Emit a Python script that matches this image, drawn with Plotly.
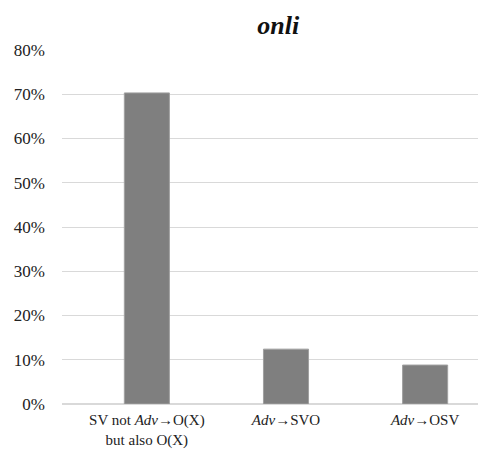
import plotly.graph_objects as go

categories = ["SV not <i>Adv</i>\u2192O(X)<br>but also O(X)", "<i>Adv</i>\u2192SVO", "<i>Adv</i>\u2192OSV"]
values = [0.703, 0.124, 0.088]
y_ticks = [0, 0.1, 0.2, 0.3, 0.4, 0.5, 0.6, 0.7, 0.8]

fig = go.Figure(go.Bar(
    x=[0, 1, 2], y=values, width=0.324,
    marker=dict(color="#7f7f7f", line=dict(color="#a0a0a0", width=1)),
))
fig.update_layout(
    width=478, height=450,
    margin=dict(l=62, r=0, t=50, b=46),
    paper_bgcolor="white", plot_bgcolor="white",
    showlegend=False,
    title=dict(text="<b><i>onli</i></b>", x=0.582, xanchor="center", y=0.944, yanchor="middle",
               font=dict(family="Liberation Serif", size=26, color="#111")),
    font=dict(family="Liberation Serif", color="#222"),
)
fig.update_xaxes(
    range=[-0.61, 2.38], tickvals=[0, 1, 2], ticktext=categories,
    showgrid=False, zeroline=False, showline=False, automargin=False,
    tickfont=dict(size=15, color="#222"), ticklabelstandoff=5,
)
fig.update_yaxes(
    range=[0, 0.8], tickvals=y_ticks, tickformat=".0%", automargin=False,
    showgrid=True, gridcolor="#d9d9d9", gridwidth=1, zeroline=True, zerolinecolor="#d9d9d9",
    showline=False, tickfont=dict(size=17, color="#222"), ticklabelstandoff=16,
)
fig.write_html("out.html", config={"displayModeBar": False},
               post_script="document.body.style.margin='0';")
